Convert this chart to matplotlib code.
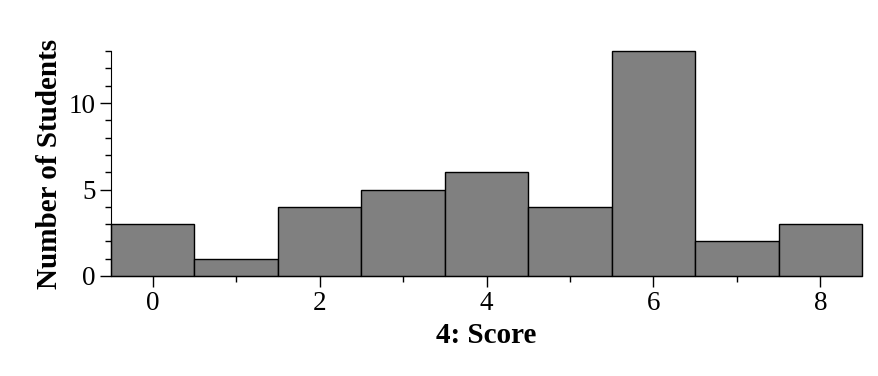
import matplotlib
matplotlib.use('Agg')
import matplotlib.pyplot as plt
from matplotlib.ticker import MultipleLocator

# Data
scores = [0, 1, 2, 3, 4, 5, 6, 7, 8]
counts = [3, 1, 4, 5, 6, 4, 13, 2, 3]

plt.rcParams['font.family'] = ['Liberation Serif', 'DejaVu Serif']

fig = plt.figure(figsize=(8.79, 3.76), dpi=100)
ax = fig.add_axes([0.1263, 0.266, 0.8544, 0.598])

ax.bar(scores, counts, width=1.0, color='#808080', edgecolor='black', linewidth=1.0,
       clip_on=False)

ax.set_xlim(-0.5, 8.5)
ax.set_ylim(0, 13)
ax.spines['top'].set_visible(False)
ax.spines['right'].set_visible(False)

ax.xaxis.set_major_locator(MultipleLocator(2))
ax.xaxis.set_minor_locator(MultipleLocator(1))
ax.yaxis.set_major_locator(MultipleLocator(5))
ax.yaxis.set_minor_locator(MultipleLocator(1))
ax.tick_params(which='major', length=8, width=1, labelsize=19.5, direction='out', pad=3)
ax.tick_params(which='minor', length=4, width=1, direction='out')

ax.set_xlabel('4: Score', fontsize=21, fontweight='bold', labelpad=4)
ax.set_ylabel('Number of Students', fontsize=21, fontweight='bold', labelpad=4)

fig.savefig('out.png', dpi=100, facecolor='white')
